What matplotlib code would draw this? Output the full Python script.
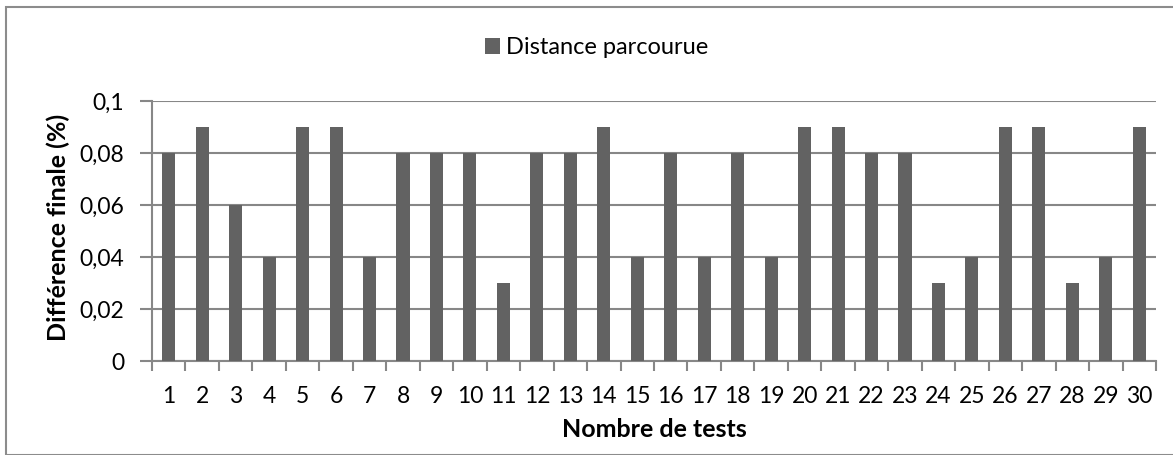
import matplotlib
matplotlib.use("Agg")
import matplotlib.pyplot as plt
from matplotlib.patches import Rectangle
from matplotlib.ticker import FixedLocator, NullFormatter

plt.rcParams['font.family'] = ['Lato', 'DejaVu Sans']

tests = list(range(1, 31))
distance = [0.08, 0.09, 0.06, 0.04, 0.09, 0.09, 0.04, 0.08, 0.08, 0.08,
            0.03, 0.08, 0.08, 0.09, 0.04, 0.08, 0.04, 0.08, 0.04, 0.09,
            0.09, 0.08, 0.08, 0.03, 0.04, 0.09, 0.09, 0.03, 0.04, 0.09]
yticks = [0, 0.02, 0.04, 0.06, 0.08, 0.1]
ytick_labels = ['0', '0,02', '0,04', '0,06', '0,08', '0,1']
series_name = 'Distance parcourue'
xlabel = 'Nombre de tests'
ylabel = 'Différence finale (%)'

W, H = 1173, 455
fig = plt.figure(figsize=(W / 100, H / 100), dpi=100)
ax = fig.add_axes([152 / W, 1 - 361 / H, (1156 - 152) / W, (361 - 101) / H])

bar_color = '#626262'
grid_color = '#878787'
ax.bar(tests, distance, width=0.39, color=bar_color, label=series_name, zorder=3)

ax.set_xlim(0.5, 30.5)
ax.set_ylim(0, 0.1)
ax.set_yticks(yticks)
ax.set_yticklabels(ytick_labels)
ax.set_xticks(tests)
ax.set_xticklabels([str(t) for t in tests])
ax.xaxis.set_minor_locator(FixedLocator([t + 0.5 for t in range(0, 31)]))
ax.xaxis.set_minor_formatter(NullFormatter())
ax.tick_params(axis='x', which='major', length=0, pad=18, labelsize=16.5, colors='black')
ax.tick_params(axis='x', which='minor', length=7, width=1.5, color=grid_color)
ax.tick_params(axis='y', length=9, width=1.5, color=grid_color, pad=11, labelsize=16.5, labelcolor='black')

ax.grid(axis='y', color=grid_color, linewidth=1.5, zorder=0)
for s in ['top', 'right']:
    ax.spines[s].set_visible(False)
for s in ['left', 'bottom']:
    ax.spines[s].set_color(grid_color)
    ax.spines[s].set_linewidth(1.5)

ax.set_xlabel(xlabel, fontsize=18, fontweight='bold')
ax.set_ylabel(ylabel, fontsize=18, fontweight='bold')
ax.yaxis.set_label_coords(70 / W, 0.5, transform=fig.transFigure)
ax.xaxis.set_label_coords(654 / W, 1 - 418 / H, transform=fig.transFigure)

fig.legend(loc='center left', bbox_to_anchor=(485 / W, 1 - 48 / H), frameon=False,
           fontsize=17, handlelength=0.64, handleheight=0.64, handletextpad=0.25,
           borderpad=0, borderaxespad=0)

fig.patches.append(Rectangle((6 / W, 0), 1 - 6 / W + 0.01, 1 - 7 / H,
                             transform=fig.transFigure, fill=False,
                             edgecolor='#8c8c8c', linewidth=1.5))

fig.savefig('out.png', dpi=100, facecolor='white')
